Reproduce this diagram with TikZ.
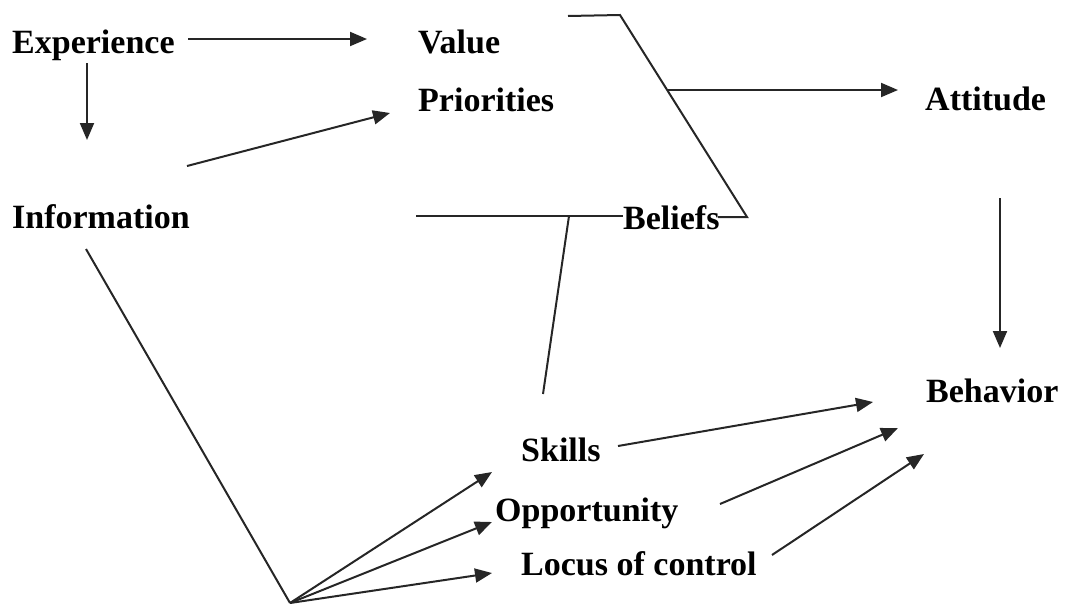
\documentclass[tikz,border=0pt]{standalone}
\usepackage{fontspec}
\setmainfont{Liberation Serif}
\usetikzlibrary{arrows.meta}
\begin{document}
\begin{tikzpicture}[x=1pt,y=-1pt,
  lbl/.style={anchor=base west,inner sep=0pt,font=\fontsize{34}{40}\selectfont\bfseries},
  conn/.style={line width=2pt,draw=black!85},
  arr/.style={conn,-{Triangle[length=17pt,width=14pt]}}]
\useasboundingbox (0,0) rectangle (1069,606);
% labels
\node[lbl] (exp) at (12,53) {Experience};
\node[lbl] (val) at (418,53) {Value};
\node[lbl] (pri) at (418,111) {Priorities};
\node[lbl] (att) at (925,110) {Attitude};
\node[lbl] (inf) at (12,228) {Information};
\node[lbl] (bel) at (623,229) {Beliefs};
\node[lbl] (beh) at (926,402) {Behavior};
\node[lbl] (ski) at (521,461) {Skills};
\node[lbl] (opp) at (495,521) {Opportunity};
\node[lbl] (loc) at (521,575) {Locus of control};
% coordinates
\coordinate (e1) at (188,39);
\coordinate (e2) at (367,39);
\coordinate (d1) at (87,63);
\coordinate (d2) at (87,140);
\coordinate (i1) at (187,166);
\coordinate (i2) at (390,113);
\coordinate (b0) at (568,16);
\coordinate (b1) at (620,15);
\coordinate (b2) at (747,217);
\coordinate (b3) at (718,217);
\coordinate (j1) at (667,90);
\coordinate (j2) at (898,90);
\coordinate (l1) at (416,216);
\coordinate (l2) at (623,216);
\coordinate (k1) at (569,216);
\coordinate (k2) at (543,394);
\coordinate (a1) at (1000,198);
\coordinate (a2) at (1000,348);
\coordinate (q1) at (86,249);
\coordinate (apex) at (290,603);
\coordinate (t1) at (492,472);
\coordinate (t2) at (492,522);
\coordinate (t3) at (492,573);
\coordinate (s1) at (618,446);
\coordinate (s2) at (873,402);
\coordinate (o1) at (720,504);
\coordinate (o2) at (898,428);
\coordinate (c1) at (772,555);
\coordinate (c2) at (924,454);
% connectors
\draw[arr] (e1) -- (e2);
\draw[arr] (d1) -- (d2);
\draw[arr] (i1) -- (i2);
\draw[conn] (b0) -- (b1) -- (b2) -- (b3);
\draw[arr] (j1) -- (j2);
\draw[conn] (l1) -- (l2);
\draw[conn] (k1) -- (k2);
\draw[arr] (a1) -- (a2);
\draw[conn] (q1) -- (apex);
\draw[arr] (apex) -- (t1);
\draw[arr] (apex) -- (t2);
\draw[arr] (apex) -- (t3);
\draw[arr] (s1) -- (s2);
\draw[arr] (o1) -- (o2);
\draw[arr] (c1) -- (c2);
\end{tikzpicture}
\end{document}
